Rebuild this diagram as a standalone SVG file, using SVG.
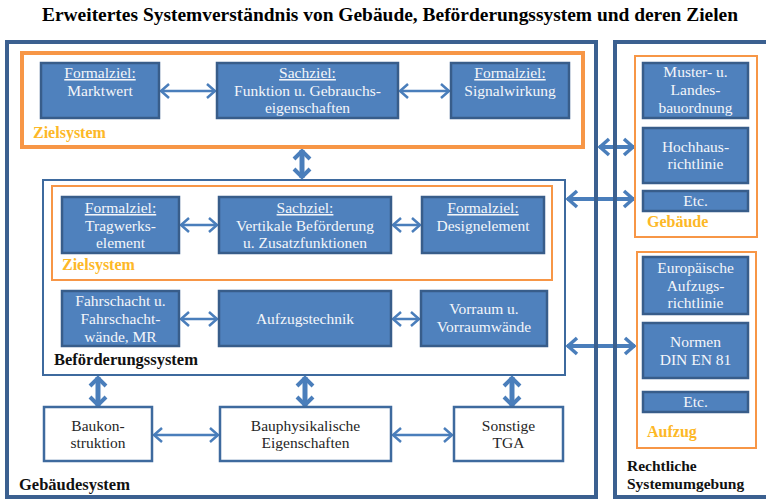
<svg xmlns="http://www.w3.org/2000/svg" width="766" height="499" viewBox="0 0 766 499">
  <style>
    .title{font-family:"Liberation Serif",serif;font-weight:bold;font-size:19.5px;fill:#000}
    .frame{fill:none;stroke:#3B6090;stroke-width:4}
    .inner{fill:none;stroke:#3E6A9E;stroke-width:2}
    .goal{fill:none;stroke:#F79646;stroke-width:4}
    .goal2{fill:none;stroke:#F79646;stroke-width:2}
    .bf{fill:#4F81BD;stroke:#385D8A;stroke-width:2.5}
    .wb{fill:#fff;stroke:#3E6A9E;stroke-width:2.5}
    .t{font-family:"Liberation Serif",serif;font-size:15.5px;text-anchor:middle}
    .tw{fill:#F4F6FA}
    .tk{fill:#262626}
    .lo{font-family:"Liberation Serif",serif;font-weight:bold;font-size:16px;fill:#FDB827}
    .lk{font-family:"Liberation Serif",serif;font-weight:bold;font-size:16.5px;fill:#111}
    .lk2{font-family:"Liberation Serif",serif;font-weight:bold;font-size:15.5px;fill:#111}
    .ar{fill:none;stroke:#4A7EBB;stroke-width:2.5;marker-start:url(#h);marker-end:url(#h)}
    .av{fill:none;stroke:#4A7EBB;stroke-width:5;marker-start:url(#hv);marker-end:url(#hv)}
    .ah{fill:none;stroke:#4A7EBB;stroke-width:4;marker-start:url(#hh);marker-end:url(#hh)}
  </style>
  <defs>
    <marker id="h" markerUnits="userSpaceOnUse" viewBox="-12 -10 14 20" refX="0" refY="0" markerWidth="14" markerHeight="20" orient="auto-start-reverse">
      <path d="M-8,-7 L0,0 L-8,7" fill="none" stroke="#4A7EBB" stroke-width="2.5" stroke-linejoin="miter"/>
    </marker>
    <marker id="hv" markerUnits="userSpaceOnUse" viewBox="-14 -12 16 24" refX="0" refY="0" markerWidth="16" markerHeight="24" orient="auto-start-reverse">
      <path d="M-9,-8 L-1,0 L-9,8" fill="none" stroke="#4A7EBB" stroke-width="4"/>
    </marker>
    <marker id="hh" markerUnits="userSpaceOnUse" viewBox="-14 -12 16 24" refX="0" refY="0" markerWidth="16" markerHeight="24" orient="auto-start-reverse">
      <path d="M-10,-8 L-1,0 L-10,8" fill="none" stroke="#4A7EBB" stroke-width="3.5"/>
    </marker>
  </defs>

  <rect width="766" height="499" fill="#fff"/>

  <text class="title" x="42" y="21" textLength="696" lengthAdjust="spacingAndGlyphs">Erweitertes Systemverständnis von Gebäude, Beförderungssystem und deren Zielen</text>

  <!-- connectors -->
  <g id="connectors">
    <line class="ar" x1="161" y1="91" x2="215" y2="91"/>
    <line class="ar" x1="400" y1="91" x2="449" y2="91"/>
    <line class="ar" x1="181" y1="225" x2="217" y2="225"/>
    <line class="ar" x1="393" y1="225" x2="420" y2="225"/>
    <line class="ar" x1="181" y1="319" x2="217" y2="319"/>
    <line class="ar" x1="393" y1="319" x2="419" y2="319"/>
    <line class="ar" x1="154" y1="435" x2="218" y2="435"/>
    <line class="ar" x1="393" y1="435" x2="452" y2="435"/>
    <line class="av" x1="302" y1="150" x2="302" y2="178"/>
    <line class="av" x1="98" y1="377" x2="98" y2="406"/>
    <line class="av" x1="305" y1="377" x2="305" y2="406"/>
    <line class="av" x1="512" y1="377" x2="512" y2="406"/>
    <line class="ah" x1="599" y1="147" x2="634" y2="147"/>
    <line class="ah" x1="567" y1="199" x2="634" y2="199"/>
    <line class="ah" x1="567" y1="346" x2="635" y2="346"/>
  </g>

  <!-- building system frame -->
  <g id="gebaeudesystem">
    <rect class="frame" x="7" y="42" width="589" height="455"/>
    <text class="lk" x="19" y="490">Gebäudesystem</text>
  </g>

  <!-- legal environment frame -->
  <g id="rechtliche-systemumgebung">
    <rect class="frame" x="615" y="42" width="170" height="455"/>
    <text class="lk2" x="627" y="471">Rechtliche</text>
    <text class="lk2" x="627" y="489">Systemumgebung</text>
  </g>

  <!-- building goal system -->
  <g id="zielsystem-gebaeude">
    <rect class="goal" x="22" y="53" width="561" height="94"/>
    <text class="lo" x="33" y="138">Zielsystem</text>
  </g>
  <g id="marktwert">
    <rect class="bf" x="41" y="63" width="118" height="55"/>
    <text class="t tw" x="100" y="78"><tspan text-decoration="underline">Formalziel:</tspan></text>
    <text class="t tw" x="100" y="96">Marktwert</text>
  </g>
  <g id="funktion">
    <rect class="bf" x="217" y="63" width="181" height="55"/>
    <text class="t tw" x="307.5" y="78"><tspan text-decoration="underline">Sachziel:</tspan></text>
    <text class="t tw" x="307.5" y="96">Funktion u. Gebrauchs-</text>
    <text class="t tw" x="307.5" y="113">eigenschaften</text>
  </g>
  <g id="signalwirkung">
    <rect class="bf" x="451" y="63" width="118" height="55"/>
    <text class="t tw" x="510" y="78"><tspan text-decoration="underline">Formalziel:</tspan></text>
    <text class="t tw" x="510" y="96">Signalwirkung</text>
  </g>

  <!-- conveying system -->
  <g id="befoerderungssystem">
    <rect class="inner" x="43" y="180" width="522" height="195"/>
    <text class="lk" x="54" y="365">Beförderungssystem</text>
  </g>
  <g id="zielsystem-befoerderung">
    <rect class="goal2" x="52" y="186" width="500" height="94"/>
    <text class="lo" x="62" y="270">Zielsystem</text>
  </g>
  <g id="tragwerkselement">
    <rect class="bf" x="62" y="197" width="117" height="56"/>
    <text class="t tw" x="120.5" y="213"><tspan text-decoration="underline">Formalziel:</tspan></text>
    <text class="t tw" x="120.5" y="231">Tragwerks-</text>
    <text class="t tw" x="120.5" y="248">element</text>
  </g>
  <g id="vertikale-befoerderung">
    <rect class="bf" x="219" y="197" width="172" height="56"/>
    <text class="t tw" x="305" y="213"><tspan text-decoration="underline">Sachziel:</tspan></text>
    <text class="t tw" x="305" y="231">Vertikale Beförderung</text>
    <text class="t tw" x="305" y="248">u. Zusatzfunktionen</text>
  </g>
  <g id="designelement">
    <rect class="bf" x="422" y="197" width="122" height="56"/>
    <text class="t tw" x="483" y="213"><tspan text-decoration="underline">Formalziel:</tspan></text>
    <text class="t tw" x="483" y="231">Designelement</text>
  </g>
  <g id="fahrschacht">
    <rect class="bf" x="62" y="291" width="117" height="55"/>
    <text class="t tw" x="120.5" y="306">Fahrschacht u.</text>
    <text class="t tw" x="120.5" y="324">Fahrschacht-</text>
    <text class="t tw" x="120.5" y="342">wände, MR</text>
  </g>
  <g id="aufzugstechnik">
    <rect class="bf" x="219" y="291" width="172" height="55"/>
    <text class="t tw" x="305" y="324">Aufzugstechnik</text>
  </g>
  <g id="vorraum">
    <rect class="bf" x="421" y="291" width="126" height="55"/>
    <text class="t tw" x="484" y="314">Vorraum u.</text>
    <text class="t tw" x="484" y="332">Vorraumwände</text>
  </g>

  <!-- building components -->
  <g id="baukonstruktion">
    <rect class="wb" x="44" y="407" width="108" height="54"/>
    <text class="t tk" x="98" y="431">Baukon-</text>
    <text class="t tk" x="98" y="448">struktion</text>
  </g>
  <g id="bauphysik">
    <rect class="wb" x="220" y="407" width="171" height="54"/>
    <text class="t tk" x="305.5" y="431">Bauphysikalische</text>
    <text class="t tk" x="305.5" y="448">Eigenschaften</text>
  </g>
  <g id="tga">
    <rect class="wb" x="454" y="407" width="109" height="54"/>
    <text class="t tk" x="508.5" y="431">Sonstige</text>
    <text class="t tk" x="508.5" y="448">TGA</text>
  </g>

  <!-- regulations: building -->
  <g id="recht-gebaeude">
    <rect class="goal2" x="635" y="56" width="122" height="181"/>
    <text class="lo" x="647" y="227">Gebäude</text>
  </g>
  <g id="bauordnung">
    <rect class="bf" x="643" y="63" width="105" height="55"/>
    <text class="t tw" x="695.5" y="77">Muster- u.</text>
    <text class="t tw" x="695.5" y="95">Landes-</text>
    <text class="t tw" x="695.5" y="113">bauordnung</text>
  </g>
  <g id="hochhausrichtlinie">
    <rect class="bf" x="643" y="128" width="105" height="55"/>
    <text class="t tw" x="695.5" y="152">Hochhaus-</text>
    <text class="t tw" x="695.5" y="169">richtlinie</text>
  </g>
  <g id="etc-gebaeude">
    <rect class="bf" x="643" y="191" width="105" height="20"/>
    <text class="t tw" x="695.5" y="206">Etc.</text>
  </g>

  <!-- regulations: elevator -->
  <g id="recht-aufzug">
    <rect class="goal2" x="637" y="252" width="119" height="196"/>
    <text class="lo" x="647" y="437">Aufzug</text>
  </g>
  <g id="aufzugsrichtlinie">
    <rect class="bf" x="643" y="257" width="105" height="57"/>
    <text class="t tw" x="695.5" y="273">Europäische</text>
    <text class="t tw" x="695.5" y="291">Aufzugs-</text>
    <text class="t tw" x="695.5" y="308">richtlinie</text>
  </g>
  <g id="din-en-81">
    <rect class="bf" x="643" y="323" width="105" height="55"/>
    <text class="t tw" x="695.5" y="347">Normen</text>
    <text class="t tw" x="695.5" y="365">DIN EN 81</text>
  </g>
  <g id="etc-aufzug">
    <rect class="bf" x="643" y="392" width="105" height="20"/>
    <text class="t tw" x="695.5" y="407">Etc.</text>
  </g>
</svg>
